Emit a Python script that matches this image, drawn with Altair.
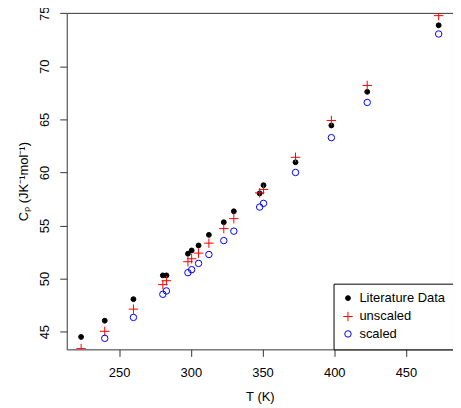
import altair as alt
import pandas as pd

T = [223.5, 240, 260, 280.5, 283, 298, 300.6, 305.4, 312.6, 323, 330, 348, 350.7, 373, 398, 423, 472.8]
literature = [44.5, 46.03, 48.06, 50.3, 50.3, 52.34, 52.65, 53.12, 54.12, 55.31, 56.34, 58.03, 58.8, 60.96, 64.43, 67.6, 73.87]
unscaled = [43.4, 45.03, 47.12, 49.43, 49.8, 51.59, 51.87, 52.4, 53.34, 54.71, 55.65, 58.08, 58.4, 61.43, 64.9, 68.2, 74.78]
scaled = [42.7, 44.37, 46.34, 48.52, 48.84, 50.56, 50.84, 51.43, 52.27, 53.58, 54.47, 56.74, 57.09, 60.0, 63.28, 66.6, 73.05]

series = ["Literature Data", "unscaled", "scaled"]
x_ticks = [250, 300, 350, 400, 450]
y_ticks = [45, 50, 55, 60, 65, 70, 75]

rows = []
for name, vals in zip(series, [literature, unscaled, scaled]):
    for t, v in zip(T, vals):
        rows.append({"T": t, "Cp": v, "series": name})
df = pd.DataFrame(rows)

plus = "M-1,0H1M0,-1V1"
FONT = "Liberation Sans"

legend = alt.Legend(
    title=None, orient="bottom-right", offset=0, padding=8,
    strokeColor="black", fillColor="white", labelFontSize=13, labelFont=FONT,
    labelColor="black", symbolStrokeWidth=1, rowPadding=3.5, labelOffset=5,
    cornerRadius=0,
)

chart = alt.Chart(df).mark_point(clip=True, strokeWidth=1, opacity=1).encode(
    x=alt.X("T:Q", scale=alt.Scale(domain=[213.5, 482.8], nice=False, zero=False),
            axis=alt.Axis(values=x_ticks, title="T (K)", labelPadding=10, titlePadding=11)),
    y=alt.Y("Cp:Q", scale=alt.Scale(domain=[43.33, 75.04], nice=False, zero=False),
            axis=alt.Axis(values=y_ticks, title="Cₚ (JK⁻¹mol⁻¹)", labelAngle=270,
                          labelAlign="center", labelBaseline="bottom", labelPadding=8,
                          titlePadding=8)),
    shape=alt.Shape("series:N", scale=alt.Scale(domain=series, range=["circle", plus, "circle"]), legend=legend),
    stroke=alt.Stroke("series:N", scale=alt.Scale(domain=series, range=["black", "red", "blue"]), legend=legend),
    fill=alt.Fill("series:N", scale=alt.Scale(domain=series, range=["black", "transparent", "transparent"]), legend=legend),
    size=alt.Size("series:N", scale=alt.Scale(type="ordinal", domain=series, range=[24, 90, 42]), legend=legend),
).properties(
    width=388, height=338,
    autosize=alt.AutoSizeParams(type="none"),
    padding={"left": 59, "top": 4, "right": 0, "bottom": 58},
).configure_view(
    stroke="#333", strokeWidth=1
).configure_axis(
    domain=False, grid=False, tickColor="#333", tickSize=7, tickWidth=1,
    labelFont=FONT, labelFontSize=13, labelColor="black",
    titleFont=FONT, titleFontSize=13, titleFontWeight="normal", titleColor="black",
)

chart.save("out.html", embed_options={"renderer": "svg", "actions": False})
